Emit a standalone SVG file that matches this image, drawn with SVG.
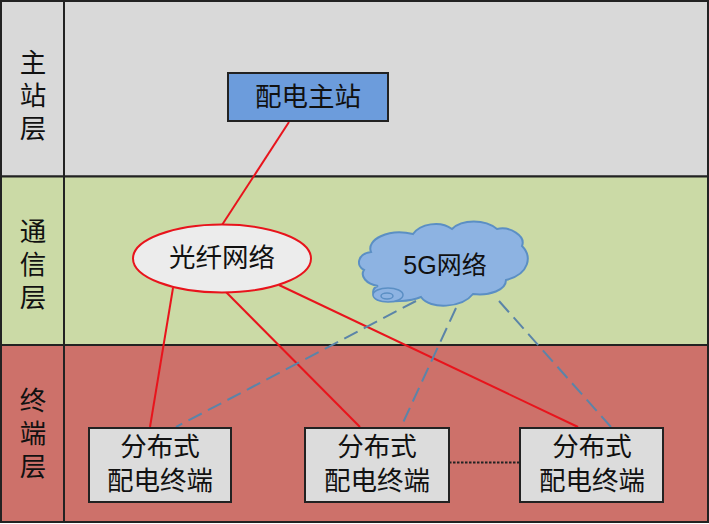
<svg xmlns="http://www.w3.org/2000/svg" width="709" height="524" viewBox="0 0 709 524">
<style>
text{font-family:"Liberation Sans","Noto Sans CJK SC",sans-serif;font-size:26.500px;fill:#111;text-anchor:middle}
.band{stroke:#222;stroke-width:2}
.box{fill:#dcdcdc;stroke:#222;stroke-width:2}
.red{stroke:#e8141c;stroke-width:2;fill:none}
.dash{stroke:#5b84a8;stroke-width:2;stroke-dasharray:15 7;fill:none}
</style>
<rect width="709" height="524" fill="#fff"/>
<g id="bands">
<rect class="band" x="1" y="1" width="707" height="175.500" fill="#d9d9d9"/>
<rect class="band" x="1" y="176.500" width="707" height="168.500" fill="#cbdaa6"/>
<rect class="band" x="1" y="345" width="707" height="177" fill="#cd716a"/>
<line class="band" x1="64" y1="1" x2="64" y2="522"/>
</g>
<g id="band-labels">
<text x="33" y="72"><tspan x="33" y="72">主</tspan><tspan x="33" y="105">站</tspan><tspan x="33" y="138">层</tspan></text>
<text x="33" y="241"><tspan x="33" y="241">通</tspan><tspan x="33" y="274">信</tspan><tspan x="33" y="307">层</tspan></text>
<text x="33" y="410"><tspan x="33" y="410">终</tspan><tspan x="33" y="443">端</tspan><tspan x="33" y="476">层</tspan></text>
</g>
<g id="connectors">
<line class="red" x1="289" y1="122" x2="222" y2="225"/>
<line class="red" x1="173" y1="288" x2="150" y2="427"/>
<line class="red" x1="225" y1="291" x2="360" y2="427"/>
<line class="red" x1="279" y1="285" x2="578" y2="427"/>
<line class="dash" x1="416" y1="301" x2="176" y2="427"/>
<line class="dash" x1="456" y1="308" x2="401" y2="427"/>
<line class="dash" x1="499" y1="301" x2="611" y2="427"/>
<line x1="449" y1="462.500" x2="520" y2="462.500" stroke="#222" stroke-width="2" stroke-dasharray="2.500 1.500"/>
</g>
<g id="master">
<rect x="228" y="73" width="160" height="48" fill="#6c9cdc" stroke="#222" stroke-width="2"/>
<text x="308" y="106">配电主站</text>
</g>
<g id="fiber">
<ellipse cx="222" cy="258.500" rx="89" ry="34" fill="#ececec" stroke="#e8141c" stroke-width="2"/>
<text x="222" y="267">光纤网络</text>
</g>
<g id="cloud">
<path fill="#8db3e2" stroke="#5b8fc4" stroke-width="2" d="M378 300C371 295 372 288 378 286C366 284 360 276 364 270C356 266 357 254 371 252C366 240 388 228 413 234C420 224 440 220 452 229C462 219 485 219 497 229C510 226 526 236 522 246C532 256 530 274 506 280C506 290 490 296 473 294C462 308 430 310 421 297C410 302 390 302 378 300Z"/>
<ellipse cx="388" cy="295" rx="15" ry="7" fill="#8db3e2" stroke="#5b8fc4" stroke-width="1.500"/>
<ellipse cx="387" cy="296" rx="6" ry="3" fill="none" stroke="#5b8fc4" stroke-width="1.500"/>
<text x="445" y="274" style="font-size:25px">5G网络</text>
</g>
<g id="terminal-1">
<rect class="box" x="89" y="428" width="142" height="74"/>
<text x="160" y="456"><tspan x="160" y="456">分布式</tspan><tspan x="160" y="490">配电终端</tspan></text>
</g>
<g id="terminal-2">
<rect class="box" x="305" y="428" width="144" height="74"/>
<text x="377" y="456"><tspan x="377" y="456">分布式</tspan><tspan x="377" y="490">配电终端</tspan></text>
</g>
<g id="terminal-3">
<rect class="box" x="520" y="428" width="143" height="74"/>
<text x="592" y="456"><tspan x="592" y="456">分布式</tspan><tspan x="592" y="490">配电终端</tspan></text>
</g>
</svg>
